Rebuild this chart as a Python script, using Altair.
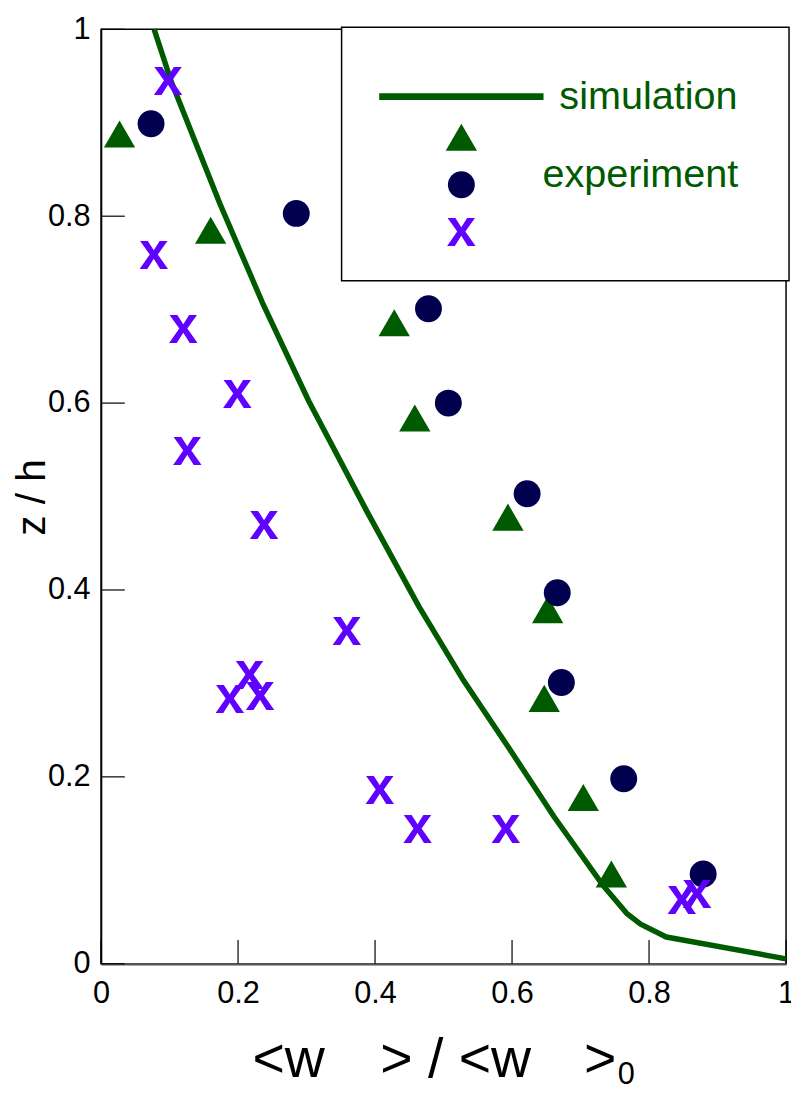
import altair as alt
import pandas as pd

# ---- data ----
tri_x = [0.027, 0.160, 0.428, 0.458, 0.594, 0.652, 0.647, 0.704, 0.745]
tri_z = [0.888, 0.785, 0.686, 0.584, 0.478, 0.379, 0.284, 0.178, 0.096]
circ_x = [0.073, 0.285, 0.478, 0.507, 0.622, 0.666, 0.672, 0.763, 0.879]
circ_z = [0.899, 0.803, 0.701, 0.600, 0.503, 0.397, 0.301, 0.198, 0.096]
cross_x = [0.098, 0.077, 0.120, 0.199, 0.126, 0.238, 0.359, 0.217, 0.188,
           0.232, 0.407, 0.462, 0.591, 0.848, 0.870]
cross_z = [0.944, 0.757, 0.678, 0.608, 0.547, 0.468, 0.355, 0.308, 0.282,
           0.285, 0.185, 0.143, 0.143, 0.067, 0.073]
sim_x = [0.0775, 0.1026, 0.1734, 0.2355, 0.3035, 0.3873, 0.4639, 0.5275,
         0.5954, 0.6618, 0.7341, 0.7673, 0.7876, 0.8251, 1.0]
sim_z = [1.0, 0.9439, 0.8136, 0.7076, 0.6017, 0.4852, 0.3824, 0.3051,
         0.2309, 0.1568, 0.0826, 0.0540, 0.0424, 0.0286, 0.0053]
tick_vals = [0.0, 0.2, 0.4, 0.6, 0.8, 1.0]

GREEN = "#005a00"
NAVY = "#00004f"
VIOLET = "#6000ff"
FONT = "Liberation Sans"

W, H = 692, 944

tri = pd.DataFrame({"x": tri_x, "z": tri_z})
circ = pd.DataFrame({"x": circ_x, "z": circ_z})
cross = pd.DataFrame({"x": cross_x, "z": cross_z})
sim = pd.DataFrame({"x": sim_x, "z": sim_z, "i": list(range(len(sim_x)))})
ticks = pd.DataFrame({"v": tick_vals})
one = pd.DataFrame({"a": [0]})

xs = alt.Scale(domain=[0, 1], nice=False, zero=False)
ys = alt.Scale(domain=[0, 1], nice=False, zero=False)

xaxis = alt.Axis(values=tick_vals, format=".1~f", title=None, grid=False,
                 ticks=False, tickSize=0, labelFont=FONT, labelFontSize=31,
                 labelColor="black", labelPadding=15, labelFlush=False,
                 domainColor="#555555", domainWidth=2.5)
yaxis = alt.Axis(values=tick_vals, format=".1~f", title=None, grid=False,
                 ticks=False, tickSize=0, labelFont=FONT, labelFontSize=31,
                 labelColor="black", labelPadding=11, labelFlush=False,
                 domainColor="black", domainWidth=1.5)

base_axes = alt.Chart(ticks).mark_point(opacity=0).encode(
    x=alt.X("v:Q", scale=xs, axis=xaxis),
    y=alt.Y("v:Q", scale=ys, axis=yaxis),
)

xticks = alt.Chart(ticks).mark_rule(color="black", strokeWidth=1.2).encode(
    x=alt.X("v:Q", scale=xs), y=alt.value(H), y2=alt.value(H - 24))
yticks = alt.Chart(ticks).mark_rule(color="black", strokeWidth=1.2).encode(
    y=alt.Y("v:Q", scale=ys), x=alt.value(0), x2=alt.value(24))

line = alt.Chart(sim).mark_line(color=GREEN, strokeWidth=5.5, interpolate="linear",
                                strokeJoin="round").encode(
    x=alt.X("x:Q", scale=xs), y=alt.Y("z:Q", scale=ys), order="i:Q")

tri_pts = alt.Chart(tri).mark_point(shape="triangle-up", filled=True, size=1000,
                                    color=GREEN, opacity=1).encode(
    x=alt.X("x:Q", scale=xs), y=alt.Y("z:Q", scale=ys))
circ_pts = alt.Chart(circ).mark_point(shape="circle", filled=True, size=740,
                                      color=NAVY, opacity=1).encode(
    x=alt.X("x:Q", scale=xs), y=alt.Y("z:Q", scale=ys))
cross_pts = alt.Chart(cross).mark_text(text="x", font=FONT, fontWeight="bold",
                                       fontSize=53, color=VIOLET, align="center",
                                       baseline="alphabetic", dy=13).encode(
    x=alt.X("x:Q", scale=xs), y=alt.Y("z:Q", scale=ys))

# ---- legend box ----
leg_box = alt.Chart(one).mark_rect(fill="white", stroke="black", strokeWidth=1.5).encode(
    x=alt.value(243), x2=alt.value(695), y=alt.value(-2), y2=alt.value(254))
leg_line = alt.Chart(one).mark_rule(color=GREEN, strokeWidth=7).encode(
    x=alt.value(281), x2=alt.value(447), y=alt.value(68))
leg_sim = alt.Chart(one).mark_text(text="simulation", font=FONT, fontSize=40,
                                   color=GREEN, align="left", baseline="alphabetic").encode(
    x=alt.value(463), y=alt.value(81))
leg_exp = alt.Chart(one).mark_text(text="experiment", font=FONT, fontSize=40,
                                   color=GREEN, align="left", baseline="alphabetic").encode(
    x=alt.value(446), y=alt.value(159))
leg_tri = alt.Chart(one).mark_point(shape="triangle-up", filled=True, size=1000,
                                    color=GREEN, opacity=1).encode(
    x=alt.value(364), y=alt.value(109))
leg_circ = alt.Chart(one).mark_point(shape="circle", filled=True, size=740,
                                     color=NAVY, opacity=1).encode(
    x=alt.value(364), y=alt.value(157))
leg_cross = alt.Chart(one).mark_text(text="x", font=FONT, fontWeight="bold",
                                     fontSize=53, color=VIOLET, align="center",
                                     baseline="alphabetic", dy=13).encode(
    x=alt.value(364), y=alt.value(206))

# ---- axis titles ----
ytitle = alt.Chart(one).mark_text(text="z / h", font=FONT, fontSize=41, color="black",
                                  angle=270, align="center", baseline="middle").encode(
    x=alt.value(-69), y=alt.value(473))
xt1 = alt.Chart(one).mark_text(text="<w", font=FONT, fontSize=56, color="black",
                               align="left", baseline="alphabetic").encode(
    x=alt.value(153), y=alt.value(1058))
xt2 = alt.Chart(one).mark_text(text="> / <w", font=FONT, fontSize=56, color="black",
                               align="left", baseline="alphabetic").encode(
    x=alt.value(282), y=alt.value(1058))
xt3 = alt.Chart(one).mark_text(text=">", font=FONT, fontSize=56, color="black",
                               align="left", baseline="alphabetic").encode(
    x=alt.value(488), y=alt.value(1058))
xt4 = alt.Chart(one).mark_text(text="0", font=FONT, fontSize=31, color="black",
                               align="left", baseline="alphabetic").encode(
    x=alt.value(522), y=alt.value(1065))

chart = alt.layer(
    base_axes, xticks, yticks, line, tri_pts, circ_pts, cross_pts,
    leg_box, leg_line, leg_sim, leg_exp, leg_tri, leg_circ, leg_cross,
    ytitle, xt1, xt2, xt3, xt4,
).properties(
    width=W, height=H,
    autosize=alt.AutoSizeParams(type="none"),
    padding={"left": 94, "top": 16, "right": 5, "bottom": 122},
    background="white",
).configure_view(stroke="black", strokeWidth=1.5)

chart.save("out.html", embed_options={"renderer": "svg", "actions": False})
